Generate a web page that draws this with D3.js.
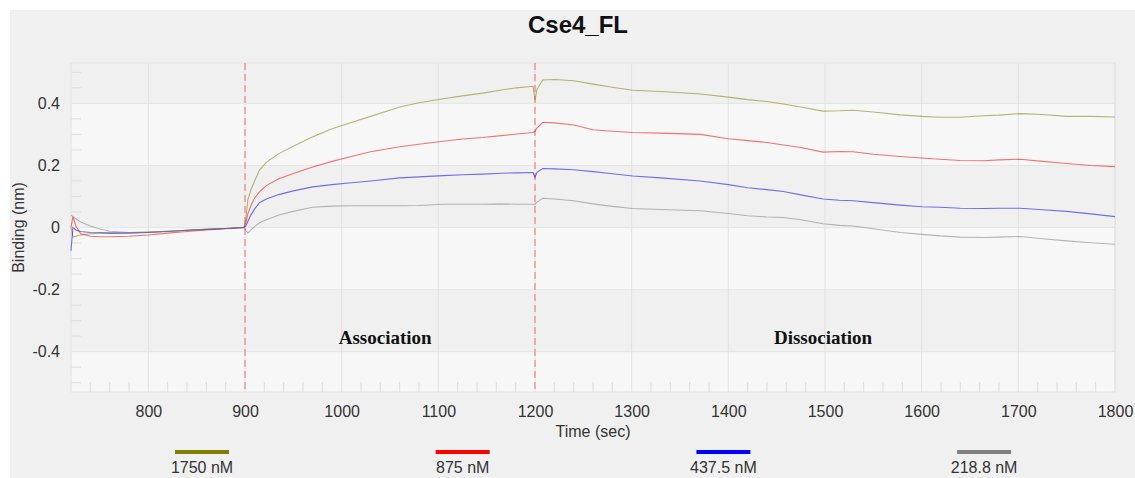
<!DOCTYPE html>
<html><head><meta charset="utf-8">
<script src="https://cdn.jsdelivr.net/npm/d3@7"></script>
<style>body{margin:0;background:#fff}svg{display:block}</style>
</head><body><svg id="c" width="1135" height="478"></svg>
<script>
const time = [720,722,725,730,740,750,760,780,800,820,840,860,880,899,
 901,903,906,910,915,922,935,950,970,990,1010,1030,1060,1080,1105,1125,1146,1165,1181,1198,
 1200,1202,1208,1220,1240,1260,1280,1301,1330,1371,1400,1420,1440,1457,1475,1498,1515,1529,1550,1578,1600,1619,1640,1664,1680,1702,1725,1750,1775,1800];
const s1750 = [0.0,-0.03,-0.028,-0.024,-0.02,-0.018,-0.018,-0.017,-0.015,-0.012,-0.009,-0.006,-0.003,0.0,
 0.03,0.09,0.12,0.15,0.185,0.21,0.238,0.262,0.292,0.318,0.338,0.358,0.388,0.402,0.415,0.424,0.433,0.443,0.45,0.455,
 0.41,0.445,0.475,0.477,0.473,0.462,0.452,0.442,0.438,0.43,0.42,0.412,0.406,0.398,0.388,0.375,0.376,0.378,0.372,0.363,0.358,0.355,0.355,0.36,0.362,0.367,0.364,0.358,0.358,0.356];
const s875 = [0.0,0.035,0.005,-0.02,-0.028,-0.03,-0.03,-0.028,-0.024,-0.018,-0.013,-0.008,-0.004,0.0,
 0.015,0.045,0.07,0.095,0.115,0.135,0.157,0.174,0.195,0.213,0.229,0.244,0.26,0.268,0.278,0.285,0.29,0.296,0.301,0.306,
 0.31,0.32,0.339,0.337,0.33,0.315,0.31,0.306,0.304,0.3,0.286,0.28,0.274,0.266,0.258,0.243,0.245,0.244,0.236,0.229,0.224,0.22,0.216,0.215,0.218,0.22,0.213,0.206,0.2,0.196];
const s437 = [-0.075,0.0,-0.008,-0.013,-0.016,-0.017,-0.018,-0.018,-0.016,-0.013,-0.009,-0.006,-0.003,0.0,
 0.005,0.02,0.04,0.06,0.08,0.092,0.106,0.118,0.131,0.138,0.144,0.150,0.160,0.163,0.167,0.17,0.172,0.175,0.176,0.177,
 0.161,0.178,0.19,0.189,0.186,0.18,0.173,0.166,0.16,0.15,0.138,0.128,0.122,0.116,0.105,0.092,0.088,0.086,0.08,0.072,0.067,0.065,0.062,0.061,0.062,0.062,0.057,0.052,0.044,0.035];
const s218 = [0.04,0.035,0.028,0.018,0.005,-0.005,-0.012,-0.016,-0.015,-0.012,-0.009,-0.006,-0.003,0.0,
 -0.01,-0.018,-0.008,0.003,0.015,0.025,0.04,0.052,0.065,0.069,0.07,0.07,0.07,0.071,0.075,0.075,0.075,0.076,0.075,0.075,
 0.075,0.082,0.094,0.092,0.086,0.076,0.068,0.061,0.058,0.054,0.045,0.038,0.034,0.032,0.025,0.012,0.007,0.005,-0.004,-0.016,-0.022,-0.027,-0.031,-0.032,-0.031,-0.029,-0.036,-0.043,-0.049,-0.054];
const seriesNames = ["1750 nM","875 nM","437.5 nM","218.8 nM"];
const seriesColors = ["#808000","#ff0000","#0000ff","#808080"];
const seriesValues = [s1750,s875,s437,s218];
const xTicks = [800,900,1000,1100,1200,1300,1400,1500,1600,1700,1800];
const yTicks = [-0.4,-0.2,0,0.2,0.4];
const yTickLabels = ["-0.4","-0.2","0","0.2","0.4"];
const phaseLines = [900,1200];
const phaseLabels = [{t:"Association",x:1045},{t:"Dissociation",x:1498}];

const svg = d3.select("#c");
const L=71,R=1115,T=63,B=392;
const x = d3.scaleLinear().domain([720,1800]).range([L,R]);
const y = d3.scaleLinear().domain([-0.53,0.53]).range([B,T]);
const SANS = "Liberation Sans, Arial, sans-serif";

svg.append("rect").attr("x",10).attr("y",10).attr("width",1125).attr("height",468).attr("fill","#f0f0f0");

const bandEdges = [-0.53,-0.4,-0.2,0,0.2,0.4,0.53];
for(let i=0;i<bandEdges.length-1;i++){
  svg.append("rect").attr("x",L).attr("width",R-L)
    .attr("y",y(bandEdges[i+1])).attr("height",y(bandEdges[i])-y(bandEdges[i+1]))
    .attr("fill", i%2===0 ? "#f7f7f7" : "#f0f0f0");
}
svg.append("g").selectAll("line").data(xTicks).join("line")
  .attr("x1",d=>x(d)).attr("x2",d=>x(d)).attr("y1",T).attr("y2",B)
  .attr("stroke","#e2e2e2").attr("stroke-width",1);
svg.append("g").selectAll("line").data(yTicks).join("line")
  .attr("x1",L).attr("x2",R).attr("y1",d=>y(d)).attr("y2",d=>y(d))
  .attr("stroke","#e6e6e6").attr("stroke-width",1);
const xMinor = d3.range(740,1800,20).filter(v=>v%100!==0);
svg.append("g").selectAll("line").data(xMinor).join("line")
  .attr("x1",d=>x(d)).attr("x2",d=>x(d)).attr("y1",B).attr("y2",B-10)
  .attr("stroke","#dcdcdc");
const yMinor = d3.range(-0.5,0.55,0.05).map(v=>Math.round(v*100)/100).filter(v=>Math.abs(Math.round(v*100))%20!==0);
svg.append("g").selectAll("line").data(yMinor).join("line")
  .attr("x1",L).attr("x2",L+10).attr("y1",d=>y(d)).attr("y2",d=>y(d))
  .attr("stroke","#dcdcdc");
svg.append("rect").attr("x",L).attr("y",T).attr("width",R-L).attr("height",B-T)
  .attr("fill","none").attr("stroke","#e2e2e2");

const xAxis = svg.append("g").attr("transform",`translate(0,${B})`)
  .call(d3.axisBottom(x).tickValues(xTicks).tickSize(0).tickPadding(14).tickFormat(d3.format("d")));
const yAxis = svg.append("g").attr("transform",`translate(${L},0)`)
  .call(d3.axisLeft(y).tickValues(yTicks).tickSize(0).tickPadding(11).tickFormat((d,i)=>yTickLabels[i]));
[xAxis,yAxis].forEach(a=>{a.select(".domain").remove();
  a.selectAll("text").attr("font-family",SANS).attr("font-size",16).attr("fill","#333");});

svg.append("text").attr("x",593).attr("y",437).attr("text-anchor","middle")
  .attr("font-family",SANS).attr("font-size",16).attr("fill","#333").text("Time (sec)");
svg.append("text").attr("transform",`translate(24,${(T+B)/2}) rotate(-90)`).attr("text-anchor","middle")
  .attr("font-family",SANS).attr("font-size",16).attr("fill","#333").text("Binding (nm)");
svg.append("text").attr("x",578).attr("y",33).attr("text-anchor","middle")
  .attr("font-family",SANS).attr("font-weight","bold").attr("font-size",24).attr("fill","#111").text("Cse4_FL");

svg.append("g").selectAll("line").data(phaseLines).join("line")
  .attr("x1",d=>x(d)).attr("x2",d=>x(d)).attr("y1",T).attr("y2",B)
  .attr("stroke","#f07070").attr("stroke-width",1).attr("stroke-dasharray","7,4");

const line = d3.line().x((d,i)=>x(time[i])).y(d=>y(d));
svg.append("g").selectAll("path").data(seriesValues).join("path")
  .attr("d",d=>line(d)).attr("fill","none")
  .attr("stroke",(d,i)=>seriesColors[i]).attr("stroke-opacity",0.55).attr("stroke-width",1.1);

svg.append("g").selectAll("text").data(phaseLabels).join("text")
  .attr("x",d=>x(d.x)).attr("y",344).attr("text-anchor","middle")
  .attr("font-family","Liberation Serif, Times New Roman, serif").attr("font-weight","bold").attr("font-size",19).attr("fill","#111")
  .text(d=>d.t);

const lg = svg.append("g").selectAll("g").data(seriesNames).join("g")
  .attr("transform",(d,i)=>`translate(${202+i*260.7},0)`);
lg.append("line").attr("x1",-27).attr("x2",27).attr("y1",452).attr("y2",452)
  .attr("stroke",(d,i)=>seriesColors[i]).attr("stroke-width",4);
lg.append("text").attr("y",473).attr("text-anchor","middle")
  .attr("font-family",SANS).attr("font-size",16).attr("fill","#333").text(d=>d);
</script></body></html>
